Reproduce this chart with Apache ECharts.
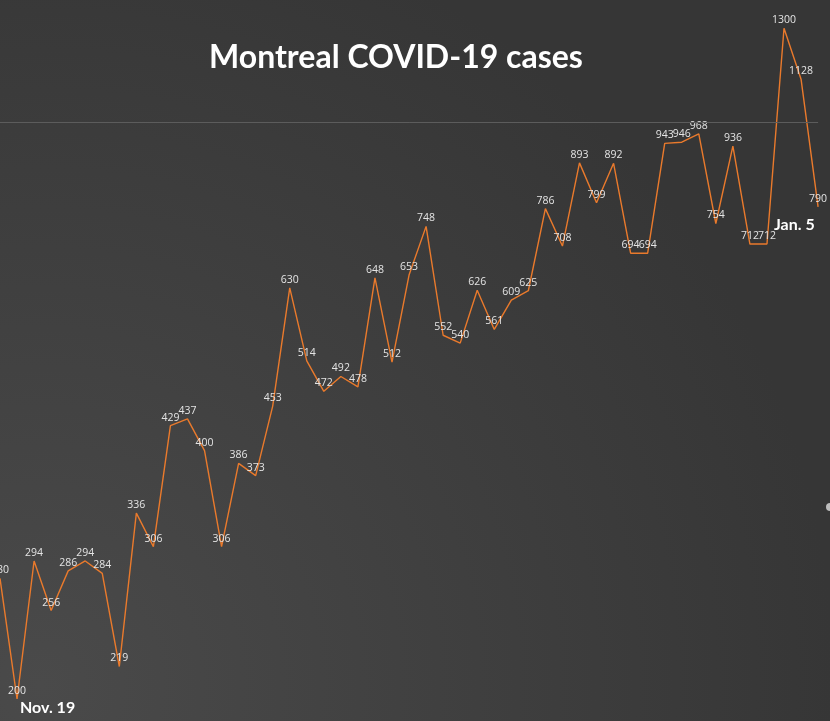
<!DOCTYPE html>
<html>
<head>
<meta charset="utf-8">
<script src="https://cdn.jsdelivr.net/npm/echarts@6/dist/echarts.min.js"></script>
<style>
html,body{margin:0;padding:0;background:#3e3e3e;}
#c{width:830px;height:721px;}
</style>
</head>
<body>
<div id="c"></div>
<script>
const categories = ['Nov. 18','Nov. 19','Nov. 20','Nov. 21','Nov. 22','Nov. 23','Nov. 24','Nov. 25','Nov. 26','Nov. 27','Nov. 28','Nov. 29','Nov. 30',
  'Dec. 1','Dec. 2','Dec. 3','Dec. 4','Dec. 5','Dec. 6','Dec. 7','Dec. 8','Dec. 9','Dec. 10','Dec. 11','Dec. 12','Dec. 13','Dec. 14','Dec. 15','Dec. 16',
  'Dec. 17','Dec. 18','Dec. 19','Dec. 20','Dec. 21','Dec. 22','Dec. 23','Dec. 24','Dec. 25','Dec. 26','Dec. 27','Dec. 28','Dec. 29','Dec. 30','Dec. 31',
  'Jan. 1','Jan. 2','Jan. 3','Jan. 4','Jan. 5'];
const cases = [280,200,294,256,286,294,284,219,336,306,429,437,400,306,386,373,453,630,514,472,492,478,648,512,653,748,552,540,626,561,609,625,
  786,708,893,799,892,694,694,943,946,968,754,936,712,712,1300,1128,790];
const gridValue = 1000;
const titleText = 'Montreal COVID-19 cases';
const startLabel = 'Nov. 19';
const endLabel = 'Jan. 5';

const chart = echarts.init(document.getElementById('c'), null, {renderer:'canvas'});
chart.setOption({
  animation: false,
  backgroundColor: {
    type: 'radial', x: 0.05, y: 0.95, r: 1.1,
    colorStops: [{offset:0,color:'#4a4a4a'},{offset:1,color:'#363636'}]
  },
  title: {
    text: titleText, left: 204, top: 37,
    textStyle: {color:'#ffffff', fontFamily:'Lato, "Open Sans", sans-serif', fontWeight:'bold', fontSize:32}
  },
  grid: {left: -3.5, right: 11.9, top: 0, bottom: 0, containLabel: false},
  xAxis: {
    type: 'category', data: categories, boundaryGap: false,
    axisLine:{show:false}, axisTick:{show:false}, axisLabel:{show:false}, splitLine:{show:false}
  },
  yAxis: {
    type: 'log', min: 188.1, max: 1406.9,
    axisLine:{show:false}, axisTick:{show:false}, axisLabel:{show:false}, splitLine:{show:false}
  },
  series: [{
    type: 'line', data: cases, symbol: 'circle', symbolSize: 1, showSymbol: true,
    itemStyle: {color:'rgba(0,0,0,0)'},
    lineStyle: {color:'#ea7a2c', width: 1.4},
    label: {show:true, position:'top', distance: 2, color:'#e4e4e4', fontSize: 10.5,
      fontFamily:'"Open Sans", "Noto Sans", sans-serif'},
    labelLayout: {hideOverlap: false},
    markLine: {
      silent: true, symbol: 'none', label: {show:false},
      lineStyle: {color:'#5c5c5c', width: 1, type:'solid'},
      data: [{yAxis: gridValue}]
    },
    z: 3
  }],
  graphic: [
    {type:'text', left: 20, top: 700, style:{text: startLabel, fill:'#ffffff', font:'bold 16px Lato, "Open Sans", sans-serif'}},
    {type:'text', left: 774, top: 217, style:{text: endLabel, fill:'#ffffff', font:'bold 16px Lato, "Open Sans", sans-serif'}},
    {type:'circle', shape:{cx: 830, cy: 507, r: 4}, style:{fill:'#bdbdbd'}}
  ]
});
</script>
</body>
</html>
